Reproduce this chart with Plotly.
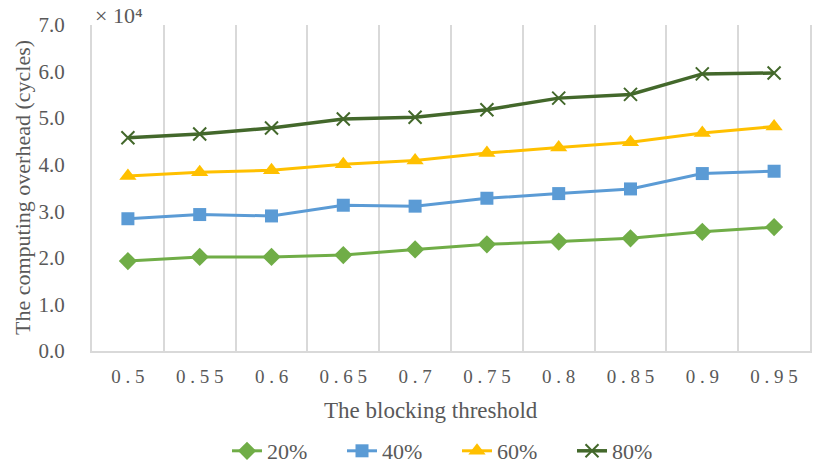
import plotly.graph_objects as go

categories = ["0.5", "0.55", "0.6", "0.65", "0.7", "0.75", "0.8", "0.85", "0.9", "0.95"]
tick_labels = ["0 . 5", "0 . 5 5", "0 . 6", "0 . 6 5", "0 . 7", "0 . 7 5", "0 . 8", "0 . 8 5", "0 . 9", "0 . 9 5"]
series_names = ["20%", "40%", "60%", "80%"]
s20 = [1.93, 2.02, 2.02, 2.06, 2.18, 2.29, 2.35, 2.42, 2.56, 2.66]
s40 = [2.84, 2.93, 2.90, 3.13, 3.11, 3.28, 3.38, 3.48, 3.81, 3.86]
s60 = [3.76, 3.84, 3.88, 4.01, 4.09, 4.25, 4.37, 4.48, 4.68, 4.82]
s80 = [4.58, 4.66, 4.79, 4.98, 5.02, 5.18, 5.43, 5.51, 5.95, 5.97]
y_ticks = [0, 1, 2, 3, 4, 5, 6, 7]

FONT = "Liberation Serif, Times New Roman, serif"
GREY = "#595959"

styles = [
    dict(color="#70AD47", symbol="diamond", size=14, width=3),
    dict(color="#5B9BD5", symbol="square", size=13, width=3),
    dict(color="#FFC000", symbol="triangle-up", size=15, width=3),
    dict(color="#43682B", symbol="x-thin-open", size=13, width=3.5),
]

fig = go.Figure()
for name, vals, st in zip(series_names, [s20, s40, s60, s80], styles):
    marker = dict(symbol=st["symbol"], size=st["size"], color=st["color"])
    if st["symbol"] == "x-thin-open":
        marker["line"] = dict(color=st["color"], width=2)
    fig.add_trace(go.Scatter(
        x=categories, y=vals, name=name, mode="lines+markers",
        line=dict(color=st["color"], width=st["width"]),
        marker=marker,
    ))

fig.update_layout(
    width=824, height=467,
    margin=dict(l=92, r=14, t=25, b=116, autoexpand=False),
    paper_bgcolor="white", plot_bgcolor="white",
    font=dict(family=FONT, color=GREY, size=20),
    showlegend=True,
    legend=dict(
        orientation="h", x=(227 - 92) / 718, xanchor="left",
        y=-(451 - 351) / 326, yanchor="middle",
        font=dict(size=22, color=GREY, family=FONT),
        entrywidth=70, entrywidthmode="pixels",
        itemwidth=30,
    ),
    xaxis=dict(
        type="category", tickson="boundaries",
        tickvals=categories, ticktext=tick_labels,
        showgrid=True, gridcolor="#D9D9D9", gridwidth=2,
        showline=True, linecolor="#D9D9D9", linewidth=2,
        ticks="", tickfont=dict(size=19, color=GREY),
        ticklabelstandoff=7,
        range=[-0.5, 9.5],
    ),
    yaxis=dict(
        range=[0, 7], tickvals=y_ticks, tickformat=".1f",
        showgrid=False, zeroline=False,
        showline=True, linecolor="#D9D9D9", linewidth=2, mirror=True,
        ticks="", ticklabelstandoff=21,
        tickfont=dict(size=21, color=GREY),
    ),
)

fig.add_annotation(
    text="× 10⁴", xref="paper", yref="paper", x=(93 - 92) / 718, y=1.0,
    xanchor="left", yanchor="bottom", showarrow=False, yshift=-5,
    font=dict(size=22, color=GREY, family=FONT),
)
fig.add_annotation(
    text="The blocking threshold", xref="paper", yref="paper",
    x=(431 - 92) / 718, y=-(410 - 351) / 326, xanchor="center", yanchor="middle",
    showarrow=False, font=dict(size=23, color=GREY, family=FONT),
)
fig.add_annotation(
    text="The computing overhead (cycles)", xref="paper", yref="paper",
    x=(22 - 92) / 718, y=(351 - 188) / 326, xanchor="center", yanchor="middle",
    textangle=-90, showarrow=False, font=dict(size=22, color=GREY, family=FONT),
)

fig.write_html(
    "out.html",
    config={"displayModeBar": False},
    post_script="document.body.style.margin='0';document.body.style.overflow='hidden';",
)
